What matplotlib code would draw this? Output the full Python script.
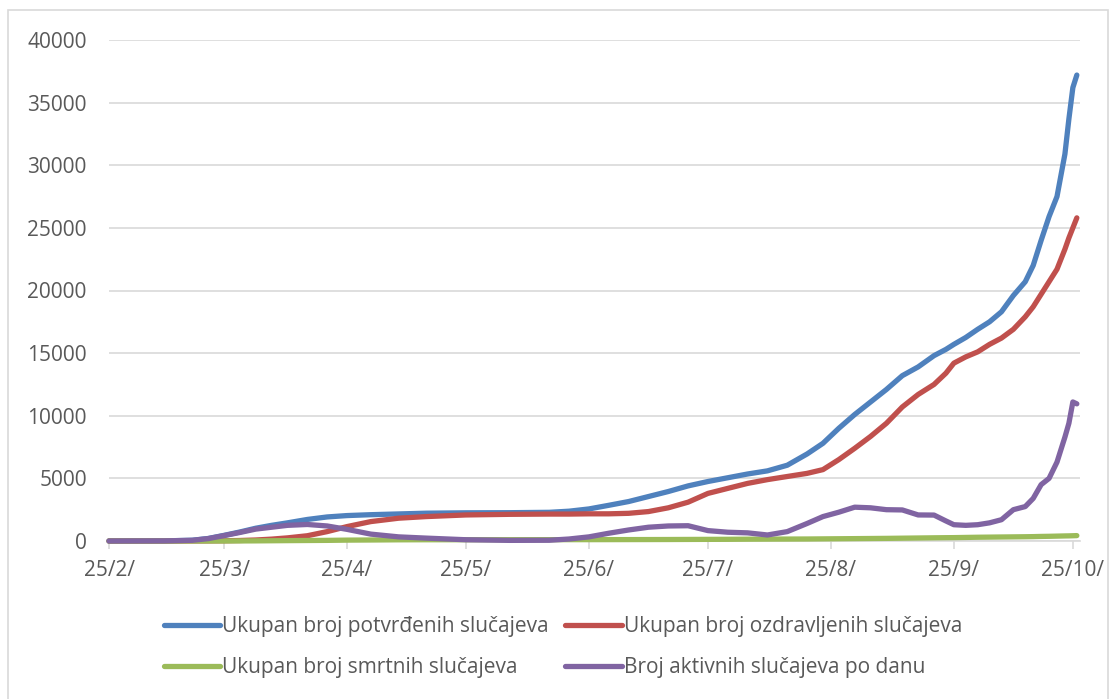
import matplotlib
matplotlib.use("Agg")
import matplotlib.pyplot as plt
import matplotlib.dates as mdates
from matplotlib.patches import Rectangle
import datetime as dt

# ---- data ----
dates = ["2020-02-25", "2020-03-10", "2020-03-17", "2020-03-21", "2020-03-25", "2020-03-29",
         "2020-04-02", "2020-04-06", "2020-04-10", "2020-04-15", "2020-04-20", "2020-04-25",
         "2020-05-01", "2020-05-08", "2020-05-15", "2020-05-25", "2020-06-05", "2020-06-15",
         "2020-06-20", "2020-06-25", "2020-06-30", "2020-07-05", "2020-07-10", "2020-07-15",
         "2020-07-20", "2020-07-25", "2020-07-30", "2020-08-04", "2020-08-09", "2020-08-14",
         "2020-08-19", "2020-08-23", "2020-08-27", "2020-08-31", "2020-09-04", "2020-09-08",
         "2020-09-12", "2020-09-16", "2020-09-20", "2020-09-23", "2020-09-25", "2020-09-28",
         "2020-10-01", "2020-10-04", "2020-10-07", "2020-10-10", "2020-10-13", "2020-10-15",
         "2020-10-17", "2020-10-19", "2020-10-21", "2020-10-23", "2020-10-24", "2020-10-25",
         "2020-10-26"]

confirmed = [0, 10, 60, 200, 450, 720,
             1020, 1250, 1450, 1720, 1920, 2030,
             2100, 2160, 2220, 2250, 2260, 2290,
             2380, 2560, 2850, 3150, 3550, 3950,
             4400, 4750, 5050, 5350, 5600, 6050,
             6950, 7800, 9000, 10100, 11100, 12100,
             13200, 13900, 14800, 15300, 15700, 16250,
             16900, 17500, 18300, 19600, 20700, 22000,
             24000, 25900, 27500, 30900, 33700, 36200,
             37200]

recovered = [0, 0, 5, 10, 20, 40,
             80, 150, 250, 420, 750, 1150,
             1550, 1820, 1950, 2080, 2130, 2150,
             2150, 2170, 2170, 2210, 2350, 2650,
             3100, 3800, 4200, 4600, 4900, 5150,
             5400, 5700, 6500, 7400, 8350, 9400,
             10700, 11700, 12500, 13400, 14200, 14700,
             15100, 15700, 16200, 16900, 17900, 18700,
             19700, 20700, 21700, 23300, 24200, 25000,
             25800]

deaths = [0, 0, 0, 0, 1, 5,
          10, 20, 30, 40, 50, 70,
          80, 95, 100, 101, 104, 107,
          107, 108, 110, 113, 116, 119,
          125, 130, 135, 145, 150, 155,
          160, 170, 180, 190, 200, 210,
          225, 240, 255, 265, 270, 285,
          300, 310, 320, 330, 340, 350,
          365, 375, 390, 405, 410, 420,
          430]

active = [0, 10, 55, 190, 430, 680,
          950, 1100, 1250, 1320, 1200, 930,
          550, 330, 230, 100, 50, 60,
          160, 330, 620, 880, 1100, 1200,
          1220, 830, 700, 650, 480, 750,
          1400, 1950, 2300, 2700, 2650, 2500,
          2480, 2080, 2070, 1600, 1300, 1250,
          1300, 1450, 1700, 2500, 2750, 3400,
          4500, 5000, 6300, 8300, 9400, 11100,
          10950]

series_labels = ["Ukupan broj potvrđenih slučajeva", "Ukupan broj ozdravljenih slučajeva",
                 "Ukupan broj smrtnih slučajeva", "Broj aktivnih slučajeva po danu"]
tick_dates = ["2020-02-25", "2020-03-25", "2020-04-25", "2020-05-25", "2020-06-25",
              "2020-07-25", "2020-08-25", "2020-09-25", "2020-10-25"]
tick_labels = ["25/2/", "25/3/", "25/4/", "25/5/", "25/6/", "25/7/", "25/8/", "25/9/", "25/10/"]
y_ticks = [0, 5000, 10000, 15000, 20000, 25000, 30000, 35000, 40000]

colors = ["#4F81BD", "#C0504D", "#9BBB59", "#8064A2"]

plt.rcParams['font.family'] = ['Open Sans', 'DejaVu Sans']

W, H = 1110, 699
fig = plt.figure(figsize=(W / 100, H / 100), dpi=100)
ax = fig.add_axes([109 / W, 1 - 541 / H, (1080 - 109) / W, (541 - 40) / H])

x = [dt.datetime.strptime(d, "%Y-%m-%d") for d in dates]
for vals, c, lab in zip([confirmed, recovered, deaths, active], colors, series_labels):
    ax.plot(x, vals, color=c, lw=3.8, solid_capstyle='round', solid_joinstyle='round',
            label=lab, clip_on=False, zorder=3)

ax.set_ylim(0, 40000)
ax.set_yticks(y_ticks)
ax.set_yticklabels([str(v) for v in y_ticks])
start = dt.datetime(2020, 2, 25)
ax.set_xlim(start, start + dt.timedelta(days=244.8))
ax.set_xticks([dt.datetime.strptime(d, "%Y-%m-%d") for d in tick_dates])
ax.set_xticklabels(tick_labels)

ax.grid(axis='y', color='#D9D9D9', lw=1.2, zorder=0)
for s in ['top', 'right', 'left']:
    ax.spines[s].set_visible(False)
ax.spines['bottom'].set_color('#D9D9D9')
ax.spines['bottom'].set_linewidth(1.2)
ax.tick_params(axis='y', length=0, pad=16, labelsize=15, labelcolor='#595959')
ax.tick_params(axis='x', length=6, width=1.2, color='#D9D9D9', pad=8, labelsize=15,
               labelcolor='#595959')

h, l = ax.get_legend_handles_labels()
order = [0, 2, 1, 3]
leg = fig.legend([h[i] for i in order], [l[i] for i in order], ncol=2, loc='center',
                 bbox_to_anchor=(563 / W, 1 - 647 / H), frameon=False, fontsize=15,
                 handlelength=2.7, handletextpad=0.1, columnspacing=0.8, labelspacing=0.95)
for t in leg.get_texts():
    t.set_color('#595959')

fig.patches.append(Rectangle((8 / W, -0.05), (1108 - 8) / W, 1 - 10 / H + 0.05,
                             transform=fig.transFigure, fill=False, edgecolor='#D9D9D9', lw=1.2))

fig.savefig("out.png", dpi=100)
